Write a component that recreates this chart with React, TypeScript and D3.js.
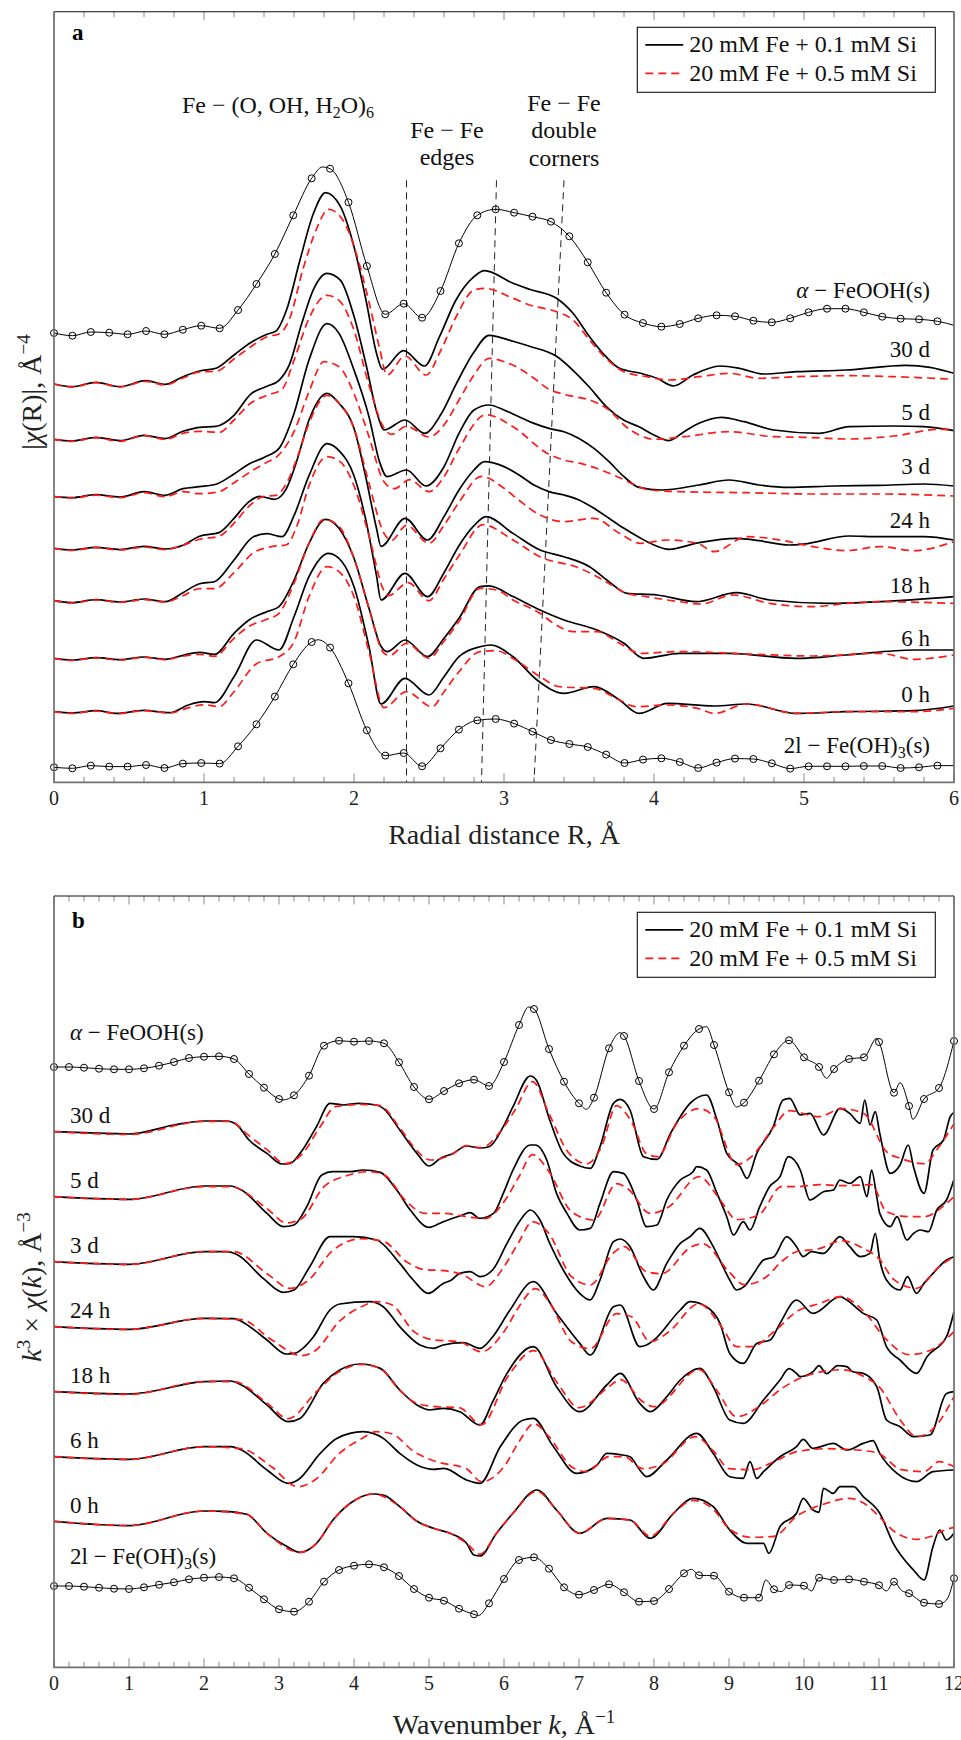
import React from "react";
import * as d3 from "d3";

type Pt = [number, number];

/* ============ Panel a : Fourier transform magnitude |χ(R)| ============ */
const rMax = 6;
const sampleNames = ["30 d", "5 d", "3 d", "24 h", "18 h", "6 h", "0 h"];
const legendNames = ["20 mM Fe + 0.1 mM Si", "20 mM Fe + 0.5 mM Si"];

// stacking offsets of the R-space traces (top to bottom)
const rOffsets = [39.83, 34.3, 28.56, 23.4, 18.16, 12.4, 7.06];
const rOffsetGoethite = 44.93;
const rOffsetFerrihydrite = 1.5;

// reference spectra, one value per marker
const rMarkerStep = 0.1227;
const rGoethite = [0, -0.27, 0.1, 0.03, -0.13, 0.2, -0.13, 0.33, 0.73, 0.47, 2.3, 4.9, 7.9, 11.77, 15.47, 16.43, 13.07, 6.7, 1.87, 2.93, 1.53, 4.2, 8.97, 11.77, 12.37, 12.03, 11.63, 11.13, 9.67, 7.07, 4.03, 1.83, 1.0, 0.63, 0.9, 1.47, 1.77, 1.67, 1.23, 1.07, 1.47, 2.07, 2.43, 2.43, 2.07, 1.63, 1.43, 1.37, 1.17];
const rGoethiteExtra: Pt[] = [[1.79, 16.6], [6.0, 0.77]];
const rFerrihydrite = [0, -0.1, 0.17, 0.07, 0.07, 0.23, -0.07, 0.37, 0.43, 0.37, 2.1, 4.3, 7.07, 10.3, 12.53, 11.97, 8.4, 3.7, 1.17, 1.43, 0.1, 1.9, 3.77, 4.7, 4.83, 4.37, 3.57, 2.73, 2.33, 2.03, 1.27, 0.43, 0.77, 0.9, 0.53, -0.07, 0.47, 0.87, 0.83, 0.4, -0.13, 0.1, 0.1, 0.1, 0.13, 0.13, -0.07, 0, 0.17];
const rFerrihydriteExtra: Pt[] = [[1.76, 12.75], [6.0, 0.17]];

// 20 mM Fe + 0.1 mM Si
const r30dLow: Pt[] = [[0,0],[0.12,-0.27],[0.28,0.17],[0.44,-0.27],[0.61,0.33],[0.74,-0.03],[0.86,0.73],[0.97,1.3],[1.08,1.57],[1.2,2.9],[1.31,4.13],[1.42,4.97],[1.48,5.3],[1.55,7.4],[1.64,12.4],[1.73,17.07],[1.81,19.13],[1.91,17.73],[2.0,13.73],[2.08,8.4],[2.15,3.07],[2.19,1.47],[2.33,3.33],[2.47,1.8],[2.57,4.73],[2.68,8.4],[2.8,10.73],[2.87,11.33],[3.06,10.07],[3.17,9.47],[3.35,8.57],[3.46,7.07],[3.57,4.73],[3.68,2.73],[3.77,1.57],[3.91,1.07],[4.02,0.57],[4.13,-0.2],[4.26,0.9],[4.44,1.8],[4.57,1.57],[4.73,1.0],[4.95,1.23],[5.28,1.4],[5.68,1.87],[5.84,1.67],[6.0,1.07]];
const r5dLow: Pt[] = [[0,0],[0.12,-0.17],[0.28,0.2],[0.44,-0.13],[0.6,0.4],[0.74,0.07],[0.86,0.8],[0.97,1.2],[1.08,1.3],[1.2,2.4],[1.31,4.5],[1.42,5.3],[1.5,5.9],[1.57,7.5],[1.65,11.5],[1.73,15.0],[1.82,16.6],[1.91,15.9],[2.0,12.3],[2.08,7.5],[2.15,2.8],[2.2,0.93],[2.34,1.93],[2.47,0.6],[2.58,2.5],[2.68,5.5],[2.8,8.73],[2.9,10.4],[3.06,9.8],[3.17,9.3],[3.35,8.3],[3.46,6.9],[3.57,5.2],[3.68,3.3],[3.8,1.9],[3.9,1.26],[4.0,0.43],[4.1,-0.14],[4.2,0.76],[4.3,1.6],[4.45,2.2],[4.6,1.76],[4.8,0.93],[5.1,0.6],[5.3,1.26],[5.6,1.33],[5.8,1.26],[6.0,0.86]];
const r3dLow: Pt[] = [[0,0],[0.12,-0.1],[0.28,0.2],[0.44,-0.03],[0.6,0.5],[0.74,0.14],[0.86,0.8],[0.97,1.0],[1.08,1.25],[1.2,2.27],[1.3,3.27],[1.4,3.93],[1.5,4.83],[1.6,8.33],[1.7,13.67],[1.82,17.3],[1.9,16.33],[2.0,12.67],[2.1,8.0],[2.17,3.5],[2.22,2.0],[2.35,2.67],[2.48,1.07],[2.6,3.0],[2.7,6.33],[2.8,8.67],[2.9,9.17],[3.0,8.67],[3.1,8.0],[3.2,7.33],[3.3,6.83],[3.4,6.5],[3.5,5.83],[3.6,4.83],[3.7,3.5],[3.8,2.0],[3.9,0.93],[4.05,0.67],[4.3,1.17],[4.5,1.67],[4.7,1.17],[4.9,0.93],[5.2,1.07],[5.5,1.13],[5.8,1.27],[6.0,1.07]];
const r24hLow: Pt[] = [[0,0],[0.12,-0.17],[0.28,0.1],[0.44,-0.13],[0.6,0.2],[0.74,-0.07],[0.86,0.3],[0.97,1.2],[1.1,1.57],[1.2,3.0],[1.3,4.67],[1.37,5.2],[1.47,4.9],[1.55,6.0],[1.62,8.8],[1.7,12.83],[1.82,15.5],[1.9,14.5],[2.0,12.0],[2.08,7.0],[2.15,2.0],[2.18,0.2],[2.34,3.0],[2.49,0.83],[2.6,3.17],[2.7,5.83],[2.8,7.83],[2.87,8.67],[3.0,8.17],[3.1,7.33],[3.2,6.33],[3.3,5.67],[3.4,5.33],[3.5,4.83],[3.6,4.0],[3.7,3.0],[3.8,2.0],[3.9,1.1],[4.0,0.33],[4.1,-0.1],[4.3,0.57],[4.55,1.0],[4.7,0.77],[4.9,0.33],[5.0,0.43],[5.3,1.23],[5.5,1.17],[5.8,1.17],[6.0,0.83]];
const r18hLow: Pt[] = [[0,0],[0.12,-0.2],[0.28,0.1],[0.44,-0.13],[0.6,0.17],[0.74,-0.1],[0.86,0.8],[0.97,1.7],[1.07,1.9],[1.2,4.07],[1.33,6.4],[1.42,6.7],[1.52,6.4],[1.6,8.5],[1.7,12.5],[1.82,15.7],[1.9,15.0],[2.0,12.5],[2.08,8.0],[2.15,2.5],[2.18,0.07],[2.34,2.73],[2.49,0.4],[2.6,2.8],[2.7,5.5],[2.8,7.5],[2.88,8.4],[3.06,6.73],[3.24,5.07],[3.4,4.4],[3.57,3.4],[3.7,1.9],[3.82,0.73],[4.02,0.57],[4.28,-0.1],[4.55,0.8],[4.77,0.07],[5.17,-0.27],[5.51,-0.1],[6.0,0.4]];
const r6hLow: Pt[] = [[0,0],[0.12,-0.17],[0.28,0.07],[0.44,-0.13],[0.6,0.13],[0.74,-0.1],[0.86,0.3],[0.97,0.6],[1.07,0.4],[1.2,2.5],[1.3,3.83],[1.42,4.67],[1.5,5.17],[1.6,7.8],[1.7,11.5],[1.81,13.9],[1.9,13.0],[2.0,10.0],[2.1,5.0],[2.18,1.2],[2.22,0.67],[2.34,1.83],[2.49,0.17],[2.6,2.0],[2.7,4.0],[2.84,7.17],[2.9,7.25],[3.06,6.17],[3.24,4.83],[3.4,3.83],[3.62,2.83],[3.8,1.5],[3.93,0.0],[4.17,0.5],[4.5,0.5],[4.95,0.0],[5.28,0.33],[5.73,0.83],[6.0,0.83]];
const r0hLow: Pt[] = [[0,0],[0.12,-0.13],[0.28,0.1],[0.42,-0.17],[0.6,0.13],[0.77,-0.1],[0.9,0.7],[1.0,1.0],[1.07,0.9],[1.2,3.5],[1.35,7.17],[1.5,6.17],[1.6,9.5],[1.7,13.5],[1.83,15.83],[1.92,15.0],[2.0,12.5],[2.1,6.5],[2.18,0.77],[2.34,3.33],[2.5,1.67],[2.6,3.5],[2.7,5.5],[2.84,6.5],[2.91,6.67],[3.06,5.5],[3.22,3.17],[3.4,1.83],[3.6,2.5],[3.77,1.17],[3.9,-0.17],[4.09,0.83],[4.4,0.57],[4.62,0.77],[4.95,-0.17],[5.28,0.0],[5.73,0.1],[6.0,0.57]];

// 20 mM Fe + 0.5 mM Si
const r30dHigh: Pt[] = [[0,0],[0.12,-0.3],[0.28,0.13],[0.44,-0.3],[0.61,0.27],[0.74,-0.1],[0.86,0.6],[0.97,1.2],[1.08,1.27],[1.2,2.5],[1.31,3.7],[1.42,4.73],[1.5,5.0],[1.57,6.5],[1.66,11.5],[1.75,15.5],[1.83,17.47],[1.93,16.3],[2.02,12.8],[2.1,8.2],[2.17,3.6],[2.22,0.9],[2.34,2.8],[2.48,0.9],[2.58,3.4],[2.68,6.7],[2.8,9.4],[2.87,9.57],[3.06,8.57],[3.17,7.9],[3.35,7.23],[3.46,6.4],[3.57,4.4],[3.68,2.57],[3.8,1.23],[3.95,0.73],[4.1,0.4],[4.3,0.73],[4.5,1.07],[4.7,0.57],[4.95,0.73],[5.3,0.83],[5.6,0.73],[6.0,0.47]];
const r5dHigh: Pt[] = [[0,0],[0.12,-0.2],[0.28,0.15],[0.44,-0.2],[0.6,0.37],[0.74,0.0],[0.86,0.6],[0.97,0.8],[1.1,0.7],[1.2,1.93],[1.31,3.6],[1.42,4.4],[1.52,5.0],[1.6,7.9],[1.7,12.1],[1.82,14.4],[1.9,13.9],[2.0,10.9],[2.1,5.4],[2.2,1.13],[2.25,0.5],[2.35,1.3],[2.5,0.23],[2.6,1.43],[2.7,3.93],[2.8,6.43],[2.9,8.1],[3.0,7.76],[3.1,7.1],[3.2,6.1],[3.3,5.0],[3.4,4.5],[3.6,3.76],[3.7,2.93],[3.8,1.43],[3.9,0.43],[4.0,0],[4.2,0.26],[4.5,0.76],[4.8,0.26],[5.0,0.2],[5.3,0.03],[5.6,0.33],[5.9,1.0],[6.0,1.0]];
const r3dHigh: Pt[] = [[0,0],[0.12,-0.13],[0.28,0.15],[0.44,-0.1],[0.6,0.4],[0.74,0.0],[0.86,0.5],[0.97,0.3],[1.1,0.5],[1.2,1.4],[1.3,2.4],[1.4,3.3],[1.5,4.2],[1.6,6.5],[1.7,10.5],[1.8,13.5],[1.9,13.0],[2.0,10.3],[2.1,6.0],[2.2,1.5],[2.27,0.8],[2.37,1.7],[2.5,0.5],[2.6,2.0],[2.7,4.8],[2.88,8.2],[3.06,7.0],[3.29,4.33],[3.4,3.67],[3.51,3.33],[3.73,2.17],[3.89,1.07],[3.95,0.73],[4.17,0.5],[4.62,0.4],[5.06,0.27],[5.5,0.27],[6.0,0.07]];
const r24hHigh: Pt[] = [[0,0],[0.12,-0.2],[0.28,0.07],[0.44,-0.17],[0.6,0.13],[0.74,-0.13],[0.86,0.3],[0.97,0.9],[1.1,1.2],[1.2,2.5],[1.3,4.2],[1.4,5.2],[1.48,5.3],[1.55,6.5],[1.62,9.0],[1.7,12.5],[1.82,15.3],[1.9,14.5],[2.0,12.0],[2.1,6.5],[2.2,1.5],[2.25,0.8],[2.35,2.3],[2.5,0.5],[2.6,2.3],[2.7,4.6],[2.85,7.2],[3.0,6.0],[3.1,4.8],[3.24,3.33],[3.4,2.67],[3.6,3.0],[3.77,1.5],[3.91,0.5],[4.09,0.83],[4.29,0.5],[4.4,-0.33],[4.62,1.17],[4.84,0.83],[5.06,0.17],[5.28,-0.23],[5.51,0.17],[5.73,-0.23],[6.0,0.67]];
const r18hHigh: Pt[] = [[0,0],[0.12,-0.23],[0.28,0.07],[0.44,-0.17],[0.6,0.1],[0.74,-0.13],[0.86,0.5],[0.97,1.2],[1.07,1.2],[1.2,2.8],[1.33,4.8],[1.45,5.4],[1.55,5.6],[1.62,7.5],[1.7,11.5],[1.82,14.4],[1.9,14.0],[2.0,11.5],[2.1,6.5],[2.2,1.0],[2.23,0.5],[2.36,1.8],[2.5,0.0],[2.6,2.2],[2.7,4.5],[2.86,7.6],[3.06,6.07],[3.24,4.4],[3.51,3.23],[3.68,1.9],[3.82,0.73],[3.95,0.4],[4.17,-0.1],[4.31,-0.33],[4.53,0.57],[4.77,-0.27],[5.06,-0.6],[5.28,-0.27],[5.51,-0.1],[6.0,-0.27]];
const r6hHigh: Pt[] = [[0,0],[0.12,-0.2],[0.28,0.03],[0.44,-0.17],[0.6,0.1],[0.74,-0.13],[0.86,0.2],[0.97,0.4],[1.07,0.2],[1.2,2.0],[1.3,3.2],[1.42,3.9],[1.5,4.5],[1.6,7.5],[1.7,11.5],[1.8,13.9],[1.9,13.2],[2.0,10.0],[2.1,5.0],[2.2,0.5],[2.24,0.3],[2.35,1.5],[2.5,0.0],[2.6,1.7],[2.7,3.7],[2.84,7.0],[2.95,6.83],[3.06,5.83],[3.24,4.5],[3.33,3.5],[3.46,2.67],[3.62,2.67],[3.77,1.5],[3.91,0.5],[4.17,0.67],[4.62,0.43],[5.06,0.23],[5.51,0.5],[5.73,-0.1],[6.0,0.33]];
const r0hHigh: Pt[] = [[0,0],[0.12,-0.17],[0.28,0.07],[0.42,-0.2],[0.6,0.1],[0.77,-0.13],[0.9,0.4],[1.0,0.7],[1.1,0.5],[1.2,2.0],[1.35,4.8],[1.5,5.5],[1.6,7.0],[1.7,11.5],[1.82,14.5],[1.9,14.0],[2.0,11.5],[2.1,6.0],[2.2,0.4],[2.35,2.0],[2.52,0.5],[2.6,2.0],[2.7,4.0],[2.84,6.0],[2.95,6.1],[3.06,5.33],[3.24,3.5],[3.37,2.5],[3.6,2.33],[3.77,1.17],[3.88,0.5],[4.09,0.67],[4.29,0.33],[4.4,-0.17],[4.62,0.77],[4.95,-0.17],[5.28,0.0],[5.73,0.0],[6.0,0.33]];

const rLow = [r30dLow, r5dLow, r3dLow, r24hLow, r18hLow, r6hLow, r0hLow];
const rHigh = [r30dHigh, r5dHigh, r3dHigh, r24hHigh, r18hHigh, r6hHigh, r0hHigh];

// shell guide lines (R at the top and at the bottom of each line)
const guideTopR = [2.35, 2.95, 3.4];
const guideBottomR = [2.35, 2.85, 3.2];
const guideTopLevel = 60.2;

/* ============ Panel b : k³-weighted EXAFS ============ */
const kMax = 12;
const kOffsets = [53.56, 47.06, 40.56, 34.06, 27.56, 21.06, 14.6];
const kOffsetGoethite = 60.03;
const kOffsetFerrihydrite = 8.13;

const kMarkerStep = 0.2;
const kGoethite = [0,0,-0.07,-0.17,-0.23,-0.23,-0.13,0.13,0.5,0.9, 1.03,1.07,0.8,-0.7,-2.07,-3.2,-2.83,-0.87,2.13,2.63, 2.53,2.6,2.37,0.47,-2.0,-3.23,-2.4,-1.63,-1.27,-1.9, 0.5,4.2,5.8,1.8,-1.47,-3.63,-3.07,1.87,3.1,-1.4, -4.2,-0.53,2.13,3.8,2.2,-2.53,-3.57,-1.37,1.27,2.67, 0.97,0,-0.2,0.8,0.97,2.5,-2.57,-3.9,-3.2,-2.1,2.6];
const kGoethiteExtra: Pt[] = [[3.05,-3.3],[6.33,6.0],[7.1,-4.23],[7.55,3.43],[8.7,4.03],[9.1,-4.0],[10.3,-1.13],[10.97,2.87],[11.28,-1.57],[11.45,-5.23]];
const kFerrihydrite = [0,0,-0.07,-0.17,-0.27,-0.3,-0.13,0.13,0.37,0.67, 0.83,0.9,0.77,-0.17,-1.33,-2.33,-2.57,-1.57,0.43,1.6, 2.03,2.17,1.87,1.0,-0.3,-1.17,-1.47,-2.27,-2.83,-1.73, 0.7,2.6,2.87,1.73,-0.13,-0.87,-0.4,0.17,-0.63,-1.57, -1.5,-0.3,1.27,1.07,1.03,-0.57,-1.17,-1.17,-0.33,0.1, 0.03,0.83,0.6,0.67,0.43,0.07,0.43,-0.73,-1.67,-1.8,0.77];
const kFerrihydriteExtra: Pt[] = [[5.66,-2.95],[8.5,1.67],[9.49,0.6],[9.7,-0.55],[10.1,-0.5],[11.1,-0.5],[11.3,-0.45],[11.9,-1.4]];

const k30dLow: Pt[] = [[0,0],[0.4,-0.1],[1.0,-0.23],[1.6,0.67],[2.0,1.07],[2.3,1.07],[2.44,0.67],[2.6,-0.83],[2.84,-2.17],[3.04,-3.23],[3.15,-3.17],[3.28,-2.17],[3.5,0.5],[3.68,2.83],[3.86,2.67],[4.06,2.83],[4.3,2.67],[4.39,2.33],[4.61,0.17],[4.84,-2.17],[5.0,-3.43],[5.15,-2.67],[5.32,-2.17],[5.5,-1.43],[5.68,-1.63],[5.8,-1.5],[5.99,0.5],[6.12,2.5],[6.35,5.57],[6.43,5.17],[6.61,1.17],[6.79,-2.17],[7.01,-3.43],[7.15,-3.67],[7.28,-1.5],[7.46,2.83],[7.55,3.23],[7.68,2.17],[7.86,-2.5],[8.04,-2.77],[8.22,-0.17],[8.35,1.5],[8.48,2.83],[8.7,3.67],[8.84,1.17],[8.97,-2.17],[9.15,-3.5],[9.24,-4.67],[9.37,-2.17],[9.59,0.5],[9.72,3.17],[9.81,3.33],[9.95,1.67],[10.08,1.83],[10.26,-0.33],[10.48,2.33],[10.61,1.83],[10.75,0.83],[10.81,3.17],[10.88,0.67],[10.95,2.0],[11.01,-0.17],[11.15,-4.17],[11.28,-3.33],[11.39,-1.33],[11.46,-3.5],[11.6,-6.17],[11.72,-1.83],[11.86,-0.83],[11.95,1.5],[12,1.93]];
const k5dLow: Pt[] = [[0,0],[1.0,-0.27],[2.0,1.07],[2.35,1.07],[2.5,0.67],[2.84,-1.67],[3.06,-3.0],[3.2,-2.83],[3.37,-1.0],[3.57,2.17],[3.72,2.5],[3.95,2.5],[4.12,2.67],[4.35,2.43],[4.57,0.67],[4.75,-1.33],[5.0,-3.07],[5.19,-2.5],[5.41,-1.93],[5.55,-1.6],[5.68,-2.17],[5.86,-1.67],[5.99,0.33],[6.12,2.67],[6.35,5.17],[6.42,5.17],[6.57,3.67],[6.7,0.33],[6.84,-1.67],[7.01,-3.33],[7.15,-3.17],[7.28,-0.67],[7.46,2.5],[7.59,2.33],[7.77,-0.33],[7.9,-3.0],[8.04,-2.83],[8.17,-0.33],[8.35,1.67],[8.52,2.5],[8.57,3.0],[8.7,2.67],[8.84,0.33],[8.97,-2.0],[9.06,-3.83],[9.19,-2.5],[9.28,-3.33],[9.41,-1.0],[9.54,1.0],[9.68,2.0],[9.79,4.0],[9.95,2.67],[10.08,-0.33],[10.26,0.5],[10.39,0.67],[10.48,1.67],[10.61,1.33],[10.75,2.0],[10.84,0.0],[10.9,2.67],[10.97,0.0],[11.01,-1.67],[11.15,-3.0],[11.24,-2.0],[11.37,-4.33],[11.46,-3.67],[11.55,-3.33],[11.66,-3.5],[11.77,-1.33],[11.9,-0.33],[12,1.73]];
const k3dLow: Pt[] = [[0,0],[1.0,-0.27],[2.0,1.0],[2.3,1.0],[2.45,0.67],[2.79,-1.67],[3.06,-3.07],[3.2,-2.83],[3.41,-0.5],[3.68,2.5],[3.99,2.5],[4.3,2.17],[4.61,-0.17],[4.79,-1.83],[4.99,-3.17],[5.19,-2.17],[5.3,-1.83],[5.41,-1.17],[5.55,-1.0],[5.68,-1.5],[5.85,-0.8],[6.04,1.83],[6.22,4.17],[6.35,5.17],[6.48,4.17],[6.61,1.83],[6.79,-0.83],[7.01,-3.17],[7.15,-3.83],[7.28,-1.83],[7.46,2.0],[7.55,2.27],[7.68,1.5],[7.86,-1.5],[7.99,-2.83],[8.17,-0.17],[8.35,1.83],[8.48,2.5],[8.61,3.33],[8.79,1.5],[8.92,-0.5],[9.01,-1.83],[9.1,-2.83],[9.2,-2.5],[9.33,-1.17],[9.46,0.17],[9.6,0.5],[9.77,2.5],[9.9,1.5],[9.99,0.5],[10.1,1.0],[10.26,0.83],[10.48,2.5],[10.61,1.5],[10.75,0.5],[10.88,0.83],[10.95,2.83],[11.01,0.17],[11.1,-1.83],[11.28,-2.83],[11.38,-1.5],[11.5,-3.17],[11.6,-2.17],[11.72,-1.17],[11.9,0.17],[12,0.5]];
const k24hLow: Pt[] = [[0,0],[1.0,-0.27],[2.0,0.83],[2.4,0.8],[2.61,0.0],[2.84,-1.33],[3.1,-2.73],[3.2,-2.67],[3.46,-1.0],[3.68,1.67],[3.81,2.27],[4.21,2.5],[4.39,2.0],[4.61,0.0],[4.88,-1.83],[5.06,-2.17],[5.19,-1.83],[5.46,-1.6],[5.68,-2.17],[5.85,-1.0],[6.08,1.67],[6.39,4.5],[6.7,1.33],[7.01,-1.67],[7.15,-2.83],[7.46,2.0],[7.55,2.17],[7.81,-2.0],[7.9,-1.83],[8.0,-1.33],[8.35,1.67],[8.48,2.5],[8.7,2.0],[8.88,0.33],[9.01,-2.67],[9.19,-3.67],[9.37,-1.67],[9.55,-1.33],[9.68,0.33],[9.9,2.67],[10.12,1.33],[10.48,3.0],[10.57,2.67],[10.79,1.33],[10.97,0.67],[11.1,-2.0],[11.28,-3.33],[11.5,-4.67],[11.64,-3.0],[11.9,-1.0],[12,1.5]];
const k18hLow: Pt[] = [[0,0],[1.0,-0.23],[2.0,1.0],[2.35,1.07],[2.5,0.67],[2.84,-1.33],[3.12,-3.0],[3.28,-2.67],[3.59,0.83],[3.81,2.17],[4.08,2.77],[4.35,2.33],[4.61,0.17],[4.84,-1.33],[5.01,-1.83],[5.19,-1.67],[5.41,-2.0],[5.68,-3.33],[5.85,-1.0],[6.04,1.83],[6.39,4.5],[6.7,0.5],[7.01,-2.0],[7.37,0.67],[7.55,1.83],[7.81,-1.17],[7.95,-2.0],[8.17,-0.5],[8.35,1.17],[8.61,2.33],[8.79,0.5],[9.01,-2.83],[9.19,-3.17],[9.46,-0.83],[9.68,1.17],[9.8,2.3],[9.9,1.83],[9.95,1.5],[10.12,2.0],[10.2,2.6],[10.3,1.8],[10.45,2.6],[10.57,2.5],[10.65,2.0],[10.79,1.83],[10.97,0.5],[11.1,-2.83],[11.28,-3.5],[11.46,-4.5],[11.68,-4.33],[11.9,-0.17],[12,0.0]];
const k6hLow: Pt[] = [[0,0],[1.0,-0.27],[2.0,1.0],[2.35,1.0],[2.5,0.67],[2.84,-1.33],[3.12,-2.67],[3.25,-2.33],[3.55,0.33],[3.77,1.83],[4.12,2.5],[4.39,1.83],[4.61,0.33],[4.84,-0.83],[5.06,-1.27],[5.2,-1.17],[5.5,-2.33],[5.68,-2.67],[5.95,1.0],[6.26,3.67],[6.39,3.83],[6.66,1.0],[6.97,-1.67],[7.24,-0.83],[7.37,0.33],[7.55,0.2],[7.68,0.0],[7.81,-1.33],[7.9,-2.0],[8.17,-0.33],[8.57,2.33],[8.79,0.33],[9.01,-2.0],[9.19,-2.17],[9.28,-0.5],[9.37,-2.17],[9.46,-1.5],[9.68,0.0],[9.9,1.0],[9.99,1.73],[10.12,0.83],[10.39,1.33],[10.57,0.67],[10.79,1.33],[10.92,1.6],[11.01,0.33],[11.24,-1.67],[11.5,-2.5],[11.72,-1.5],[12,-1.33]];
const k0hLow: Pt[] = [[0,0],[1.0,-0.43],[2.0,1.03],[2.3,1.0],[2.57,0.7],[2.84,-1.2],[3.1,-2.5],[3.28,-3.1],[3.5,-2.2],[3.72,0.13],[3.95,1.8],[4.26,2.73],[4.4,2.6],[4.61,1.47],[4.84,0.0],[5.06,-0.7],[5.28,-1.2],[5.5,-2.2],[5.6,-3.37],[5.68,-3.47],[5.9,-1.2],[6.12,0.8],[6.44,3.13],[6.7,1.13],[7.01,-1.2],[7.37,0.3],[7.68,0.13],[7.95,-1.7],[8.26,0.8],[8.52,2.3],[8.79,1.47],[9.01,-0.87],[9.24,-2.2],[9.46,-2.2],[9.53,-3.2],[9.68,-0.53],[9.9,0.8],[9.99,2.3],[10.12,1.13],[10.2,0.9],[10.26,3.3],[10.39,2.8],[10.48,3.47],[10.66,3.47],[10.79,2.47],[11.01,0.8],[11.19,-2.2],[11.46,-4.87],[11.6,-5.87],[11.72,-2.53],[11.81,-0.87],[11.9,-1.87],[12,-1.2]];

const k30dHigh: Pt[] = [[0,0],[1.0,-0.27],[2.0,1.03],[2.35,1.03],[2.6,-0.4],[2.84,-1.8],[3.08,-3.2],[3.3,-2.3],[3.55,0.5],[3.75,2.5],[4.1,2.73],[4.35,2.6],[4.6,0.5],[4.85,-2.0],[5.02,-2.83],[5.3,-2.3],[5.5,-1.4],[5.7,-1.6],[5.95,0.0],[6.15,2.2],[6.38,5.0],[6.6,1.8],[6.85,-2.0],[7.1,-3.2],[7.3,-1.5],[7.5,2.6],[7.7,1.0],[7.9,-2.2],[8.05,-2.5],[8.3,0.8],[8.6,2.3],[8.8,1.5],[9.1,-3.3],[9.3,-2.5],[9.6,0.5],[9.8,2.1],[10.2,1.5],[10.5,2.3],[10.8,1.8],[11.1,-2.0],[11.3,-2.7],[11.6,-3.2],[11.8,-1.5],[12,0.8]];
const k5dHigh: Pt[] = [[0,0],[1.0,-0.27],[2.0,1.0],[2.35,1.0],[2.84,-1.2],[3.1,-2.63],[3.3,-2.2],[3.6,1.0],[3.9,2.1],[4.2,2.5],[4.4,2.2],[4.7,-0.5],[4.95,-1.67],[5.2,-1.67],[5.5,-2.0],[5.75,-2.2],[6.0,-0.5],[6.2,2.0],[6.38,4.2],[6.6,2.5],[6.9,-1.5],[7.2,-2.33],[7.5,1.3],[7.65,0.8],[7.95,-1.67],[8.2,-1.0],[8.6,2.0],[8.9,-0.5],[9.1,-2.3],[9.4,-1.8],[9.7,1.0],[9.9,1.0],[10.2,1.2],[10.5,1.1],[10.9,1.2],[11.1,-1.5],[11.4,-2.0],[11.6,-2.0],[11.9,-0.67],[12,0.0]];
const k3dHigh: Pt[] = [[0,0],[1.0,-0.27],[2.0,1.0],[2.4,1.0],[2.84,-1.2],[3.15,-2.67],[3.4,-1.8],[3.7,1.0],[4.1,2.3],[4.4,2.0],[4.7,0.0],[4.95,-0.8],[5.2,-0.9],[5.45,-1.3],[5.75,-2.5],[6.0,-0.5],[6.2,2.0],[6.38,4.0],[6.6,2.8],[6.9,-1.5],[7.15,-2.33],[7.45,0.8],[7.6,1.5],[7.9,-1.0],[8.1,-1.2],[8.5,1.5],[8.65,1.8],[9.0,-1.0],[9.2,-2.3],[9.5,-1.5],[9.7,0.0],[9.9,1.0],[10.2,1.3],[10.5,2.1],[10.8,1.3],[11.0,0.3],[11.2,-1.8],[11.5,-2.67],[11.8,-0.5],[12,0.5]];
const k24hHigh: Pt[] = [[0,0],[1.0,-0.27],[2.0,0.83],[2.5,0.7],[2.9,-1.3],[3.3,-2.9],[3.5,-2.3],[3.8,0.5],[4.1,2.0],[4.3,2.5],[4.5,2.2],[4.8,-0.5],[5.05,-1.3],[5.4,-1.5],[5.7,-2.5],[6.0,-0.5],[6.2,2.0],[6.42,3.8],[6.6,2.5],[6.9,-1.5],[7.15,-2.2],[7.5,1.3],[7.7,1.0],[7.95,-1.5],[8.2,-0.5],[8.6,2.3],[8.9,0.0],[9.1,-2.0],[9.3,-2.0],[9.6,-0.5],[9.9,1.5],[10.2,2.3],[10.5,3.0],[10.8,1.5],[11.1,-1.3],[11.4,-2.8],[11.7,-2.3],[12,-0.5]];
const k18hHigh: Pt[] = [[0,0],[1.0,-0.27],[2.0,1.0],[2.4,1.0],[2.85,-1.2],[3.12,-2.7],[3.5,0.0],[3.8,2.0],[4.1,2.73],[4.35,2.33],[4.6,0.2],[4.85,-1.2],[5.1,-1.5],[5.4,-1.6],[5.7,-3.3],[6.05,1.5],[6.4,4.1],[6.7,1.0],[7.0,-1.6],[7.4,0.5],[7.55,1.2],[7.85,-1.0],[8.0,-1.5],[8.6,2.2],[8.85,0.0],[9.1,-2.5],[9.4,-1.5],[9.7,0.3],[10.0,1.5],[10.5,2.2],[10.8,1.5],[11.0,0.5],[11.3,-3.0],[11.5,-4.5],[11.75,-3.5],[12,-0.5]];
const k6hHigh: Pt[] = [[0,0],[1.0,-0.27],[2.0,1.0],[2.5,0.8],[2.9,-1.0],[3.25,-3.0],[3.5,-2.2],[3.8,0.3],[4.1,1.8],[4.3,2.5],[4.5,2.3],[4.8,0.5],[5.1,-0.5],[5.5,-1.2],[5.7,-2.5],[6.0,-1.0],[6.2,1.5],[6.4,3.3],[6.6,2.0],[6.9,-1.0],[7.1,-1.5],[7.4,0.0],[7.6,0.0],[7.85,-1.2],[8.1,-0.8],[8.55,2.0],[8.8,0.5],[9.0,-1.2],[9.3,-1.3],[9.6,-0.5],[9.9,0.5],[10.3,0.8],[10.8,0.6],[11.0,0.3],[11.3,-1.3],[11.6,-1.5],[11.8,-0.5],[12,-1.0]];
const k0hHigh: Pt[] = [[0,0],[1.0,-0.43],[2.0,1.03],[2.57,0.7],[2.84,-1.2],[3.28,-3.1],[3.5,-2.2],[3.72,0.13],[3.95,1.8],[4.26,2.73],[4.61,1.47],[4.84,0],[5.06,-0.7],[5.28,-1.2],[5.5,-2.2],[5.68,-3.3],[5.9,-1.2],[6.12,0.8],[6.44,3.0],[6.7,1.13],[7.01,-1.2],[7.37,0.3],[7.68,0.13],[7.95,-1.5],[8.26,0.8],[8.52,2.1],[8.79,1.2],[9.01,-0.8],[9.3,-1.6],[9.6,-1.5],[9.9,0.5],[10.3,1.8],[10.6,2.3],[10.8,1.8],[11.0,0.5],[11.2,-1.0],[11.5,-1.8],[11.7,-1.5],[11.9,-0.8],[12,-0.6]];

const kLow = [k30dLow, k5dLow, k3dLow, k24hLow, k18hLow, k6hLow, k0hLow];
const kHigh = [k30dHigh, k5dHigh, k3dHigh, k24hHigh, k18hHigh, k6hHigh, k0hHigh];

/* ============ drawing ============ */
const FONT = "'Liberation Serif', 'DejaVu Serif', serif";
const RED = "#ff1a1a";
const LINE_W = 1.7;
const RED_DASH = "8 5";

const refPoints = (vals: number[], step: number, extra: Pt[]): Pt[] =>
  [...vals.map((v, i) => [i * step, v] as Pt), ...extra].sort((a, b) => a[0] - b[0]);

type Lin = d3.ScaleLinear<number, number>;

function Frame({ x, top, bottom, max, labelY }: { x: Lin; top: number; bottom: number; max: number; labelY: number }) {
  const majors = d3.range(0, max + 1e-9, 1);
  const minors = d3.range(0, max + 1e-9, 0.2).filter((v) => Math.abs(v - Math.round(v)) > 1e-6);
  const [l, r] = x.range();
  return (
    <g>
      {minors.map((v) => (
        <g key={"m" + v} stroke="#8a8a8a" strokeWidth={1}>
          <line x1={x(v)} x2={x(v)} y1={bottom} y2={bottom - 5.5} />
          <line x1={x(v)} x2={x(v)} y1={top} y2={top + 5.5} />
        </g>
      ))}
      {majors.map((v) => (
        <g key={"M" + v}>
          <line x1={x(v)} x2={x(v)} y1={bottom} y2={bottom - 9} stroke="#8a8a8a" strokeWidth={1} />
          <line x1={x(v)} x2={x(v)} y1={top} y2={top + 8.5} stroke="#8a8a8a" strokeWidth={1} />
          <text x={x(v)} y={labelY} textAnchor="middle" fontSize={20} fill="#222">
            {v}
          </text>
        </g>
      ))}
      <line x1={l} x2={r} y1={top} y2={top} stroke="#111" strokeWidth={1.1} />
      <path d={`M${l},${top}V${bottom}H${r}V${top}`} fill="none" stroke="#707070" strokeWidth={1.7} />
    </g>
  );
}

function Legend({ top }: { top: number }) {
  const left = 637.3;
  return (
    <g>
      <rect x={left} y={top} width={298} height={65} fill="#fff" stroke="#111" strokeWidth={1.1} />
      <line x1={left + 8} x2={left + 46} y1={top + 17.5} y2={top + 17.5} stroke="#000" strokeWidth={LINE_W} />
      <line x1={left + 8} x2={left + 46} y1={top + 46} y2={top + 46} stroke={RED} strokeWidth={LINE_W} strokeDasharray={RED_DASH} />
      <text x={left + 52} y={top + 25} fontSize={24} fill="#111">{legendNames[0]}</text>
      <text x={left + 52} y={top + 53.4} fontSize={24} fill="#111">{legendNames[1]}</text>
    </g>
  );
}

function RefTrace({ pts, step, x, y, offset }: { pts: Pt[]; step: number; x: Lin; y: Lin; offset: number }) {
  const line = d3.line<Pt>().x((d) => x(d[0])).y((d) => y(offset + d[1])).curve(d3.curveMonotoneX);
  const markers = pts.filter((d) => Math.abs(d[0] / step - Math.round(d[0] / step)) < 1e-6);
  return (
    <g>
      <path d={line(pts) ?? ""} fill="none" stroke="#000" strokeWidth={1} />
      {markers.map((d, i) => (
        <circle key={i} cx={x(d[0])} cy={y(offset + d[1])} r={3.5} fill="none" stroke="#000" strokeWidth={1} />
      ))}
    </g>
  );
}

function Pairs({ low, high, offsets, x, y }: { low: Pt[][]; high: Pt[][]; offsets: number[]; x: Lin; y: Lin }) {
  return (
    <g>
      {offsets.map((off, i) => {
        const line = d3.line<Pt>().x((d) => x(d[0])).y((d) => y(off + d[1])).curve(d3.curveMonotoneX);
        return (
          <g key={i}>
            <path d={line(low[i]) ?? ""} fill="none" stroke="#000" strokeWidth={LINE_W} strokeLinejoin="round" />
            <path d={line(high[i]) ?? ""} fill="none" stroke={RED} strokeWidth={LINE_W} strokeDasharray={RED_DASH} />
          </g>
        );
      })}
    </g>
  );
}

export default function App() {
  // panel a scales
  const xA = d3.scaleLinear().domain([0, rMax]).range([54, 954]);
  const yA = d3.scaleLinear().domain([0, 77.06]).range([782.3, 11.7]);
  // panel b scales
  const xB = d3.scaleLinear().domain([0, kMax]).range([54, 954]);
  const yB = d3.scaleLinear().domain([0, 77.13]).range([1667.3, 896]);

  const rLabelY = [357.3, 420, 474, 528.3, 593.3, 646, 701.7];
  const kLabelY = [1123.3, 1188.3, 1253.3, 1318.3, 1383.3, 1448.3, 1513.3];

  return (
    <svg
      width={961}
      height={1740}
      viewBox="0 0 961 1740"
      style={{ position: "absolute", left: 0, top: 0, background: "#fff" }}
      fontFamily={FONT}
    >
      <rect width={961} height={1740} fill="#fff" />

      {/* ---------------- panel a ---------------- */}
      <g>
        {guideTopR.map((r0, i) => (
          <line
            key={i}
            x1={xA(r0)}
            y1={yA(guideTopLevel)}
            x2={xA(guideBottomR[i])}
            y2={yA(0)}
            stroke="#222"
            strokeWidth={1}
            strokeDasharray="7 5"
          />
        ))}
        <RefTrace pts={refPoints(rGoethite, rMarkerStep, rGoethiteExtra)} step={rMarkerStep} x={xA} y={yA} offset={rOffsetGoethite} />
        <Pairs low={rLow} high={rHigh} offsets={rOffsets} x={xA} y={yA} />
        <RefTrace pts={refPoints(rFerrihydrite, rMarkerStep, rFerrihydriteExtra)} step={rMarkerStep} x={xA} y={yA} offset={rOffsetFerrihydrite} />
        <Frame x={xA} top={11.7} bottom={782.3} max={rMax} labelY={805} />
        <Legend top={27.3} />
        <text x={72} y={40} fontSize={23} fontWeight="bold">a</text>

        {/* shell annotations */}
        <g fontSize={24} fill="#111" textAnchor="middle">
          <text x={278} y={113}>
            Fe − (O, OH, H<tspan dy={5} fontSize={16}>2</tspan>
            <tspan dy={-5}>O)</tspan>
            <tspan dy={5} fontSize={16}>6</tspan>
          </text>
          <text x={447} y={138}>Fe − Fe</text>
          <text x={447} y={165}>edges</text>
          <text x={564} y={111}>Fe − Fe</text>
          <text x={564} y={137.7}>double</text>
          <text x={564} y={165.7}>corners</text>
        </g>

        {/* trace labels */}
        <g fontSize={23} fill="#111" textAnchor="end">
          <text x={930} y={298.3}>
            <tspan fontStyle="italic">α</tspan> − FeOOH(s)
          </text>
          {sampleNames.map((s, i) => (
            <text key={s} x={930} y={rLabelY[i]}>{s}</text>
          ))}
          <text x={930} y={752.7}>
            2l − Fe(OH)<tspan dy={5} fontSize={16}>3</tspan>
            <tspan dy={-5}>(s)</tspan>
          </text>
        </g>

        <text x={504} y={844} fontSize={28} textAnchor="middle" fill="#222">
          Radial distance R, Å
        </text>
        <text transform="translate(41,392) rotate(-90)" fontSize={28} textAnchor="middle" fill="#222">
          |<tspan fontStyle="italic">χ</tspan>(R)|, Å<tspan dy={-11} fontSize={19}>−4</tspan>
        </text>
      </g>

      {/* ---------------- panel b ---------------- */}
      <g>
        <RefTrace pts={refPoints(kGoethite, kMarkerStep, kGoethiteExtra)} step={kMarkerStep} x={xB} y={yB} offset={kOffsetGoethite} />
        <Pairs low={kLow} high={kHigh} offsets={kOffsets} x={xB} y={yB} />
        <RefTrace pts={refPoints(kFerrihydrite, kMarkerStep, kFerrihydriteExtra)} step={kMarkerStep} x={xB} y={yB} offset={kOffsetFerrihydrite} />
        <Frame x={xB} top={896} bottom={1667.3} max={kMax} labelY={1690} />
        <Legend top={912.3} />
        <text x={72} y={928.3} fontSize={23} fontWeight="bold">b</text>

        <g fontSize={23} fill="#111" textAnchor="start">
          <text x={70} y={1040}>
            <tspan fontStyle="italic">α</tspan> − FeOOH(s)
          </text>
          {sampleNames.map((s, i) => (
            <text key={s} x={70} y={kLabelY[i]}>{s}</text>
          ))}
          <text x={70} y={1564}>
            2l − Fe(OH)<tspan dy={5} fontSize={16}>3</tspan>
            <tspan dy={-5}>(s)</tspan>
          </text>
        </g>

        <text x={504} y={1734} fontSize={28} textAnchor="middle" fill="#222">
          Wavenumber <tspan fontStyle="italic">k</tspan>, Å<tspan dy={-11} fontSize={19}>−1</tspan>
        </text>
        <text transform="translate(41,1287) rotate(-90)" fontSize={28} textAnchor="middle" fill="#222">
          <tspan fontStyle="italic">k</tspan>
          <tspan dy={-11} fontSize={19}>3</tspan>
          <tspan dy={11}> × </tspan>
          <tspan fontStyle="italic">χ</tspan>(<tspan fontStyle="italic">k</tspan>), Å
          <tspan dy={-11} fontSize={19}>−3</tspan>
        </text>
      </g>
    </svg>
  );
}
